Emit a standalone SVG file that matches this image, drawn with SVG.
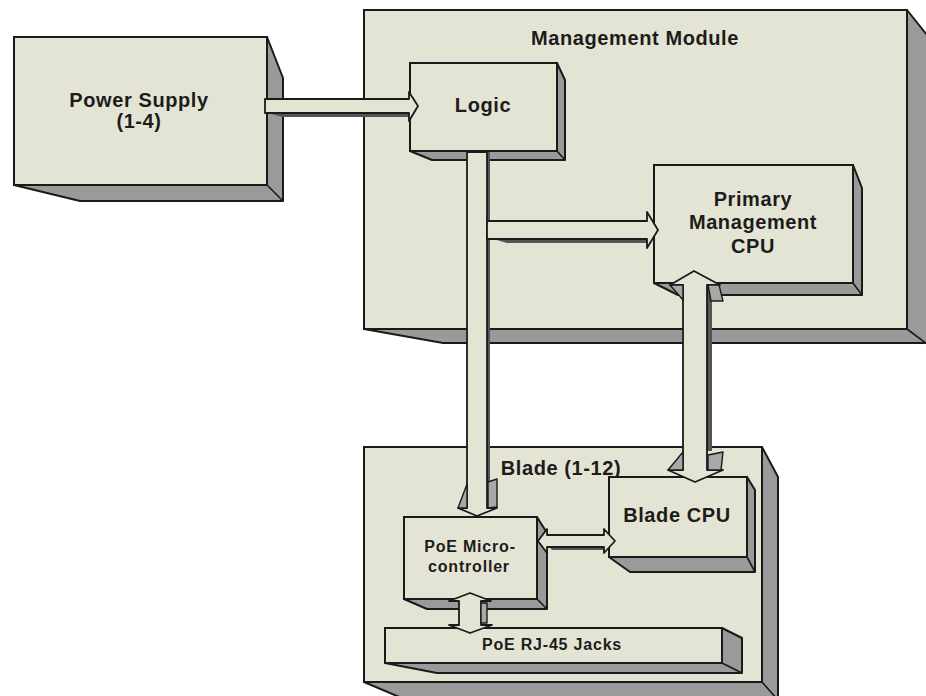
<svg xmlns="http://www.w3.org/2000/svg" width="926" height="696" viewBox="0 0 926 696">
<style>
.face{fill:#e4e4d4;stroke:#1a1a1a;stroke-width:2}
.shd{fill:#9a9a9a;stroke:#1a1a1a;stroke-width:2;stroke-linejoin:round}
.edge{fill:none;stroke:#1a1a1a;stroke-width:1.6}
.arr{fill:#e4e4d4;stroke:#1a1a1a;stroke-width:1.8;stroke-linejoin:round}
.aside{fill:#a8a8a8;stroke:#1a1a1a;stroke-width:1.4;stroke-linejoin:round}
.ash{fill:#555;stroke:none}
text{font-family:"Liberation Sans",Arial,sans-serif;font-weight:bold;fill:#1c1c1c;text-anchor:middle}
.big{font-size:20px;letter-spacing:0.6px}
.sm{font-size:16px;letter-spacing:0.8px}
</style>
<rect width="926" height="696" fill="#ffffff"/>

<g id="management-module">
<polygon class="shd" points="907,10 935,45 935,343 443,343 364,329"/>
<line class="edge" x1="907" y1="329" x2="935" y2="350"/>
<rect class="face" x="364" y="10" width="543" height="319"/>
<text class="big" x="635" y="45">Management Module</text>
</g>

<g id="blade-module">
<polygon class="shd" points="762,447 778,477 778,710 430,710 364,682"/>
<line class="edge" x1="762" y1="682" x2="778" y2="700"/>
<rect class="face" x="364" y="447" width="398" height="235"/>
<text class="big" x="561" y="475">Blade (1-12)</text>
</g>

<g id="power-supply">
<polygon class="shd" points="267,37 283,78 283,201 80,201 14,185"/>
<line class="edge" x1="267" y1="185" x2="283" y2="201"/>
<rect class="face" x="14" y="37" width="253" height="148"/>
<text class="big" x="139" y="107">Power Supply</text>
<text class="big" x="139" y="128">(1-4)</text>
</g>

<g id="logic">
<polygon class="shd" points="557,63 565,80 565,160 432,160 410,151"/>
<line class="edge" x1="557" y1="151" x2="565" y2="160"/>
<rect class="face" x="410" y="63" width="147" height="88"/>
<text class="big" x="483" y="112">Logic</text>
</g>

<g id="primary-management-cpu">
<polygon class="shd" points="853,165 862,188 862,295 678,295 654,283"/>
<line class="edge" x1="853" y1="283" x2="862" y2="295"/>
<rect class="face" x="654" y="165" width="199" height="118"/>
<text class="big" x="753" y="206">Primary</text>
<text class="big" x="753" y="229">Management</text>
<text class="big" x="753" y="253">CPU</text>
</g>

<g id="blade-cpu">
<polygon class="shd" points="747,477 755,490 755,572 630,572 609,557"/>
<line class="edge" x1="747" y1="557" x2="755" y2="572"/>
<rect class="face" x="609" y="477" width="138" height="80"/>
<text class="big" x="677" y="522">Blade CPU</text>
</g>

<g id="poe-microcontroller">
<polygon class="shd" points="537,517 547,533 547,609 427,609 404,599"/>
<line class="edge" x1="537" y1="599" x2="547" y2="609"/>
<rect class="face" x="404" y="517" width="133" height="82"/>
<text class="sm" x="470" y="552">PoE Micro-</text>
<text class="sm" x="469" y="572">controller</text>
</g>

<g id="poe-rj45-jacks">
<polygon class="shd" points="722,628 742,638 742,673 437,673 385,663"/>
<line class="edge" x1="722" y1="663" x2="742" y2="673"/>
<rect class="face" x="385" y="628" width="337" height="35"/>
<text class="sm" x="552" y="650">PoE RJ-45 Jacks</text>
</g>

<g id="connectors">
<!-- Power Supply -> Logic -->
<polygon class="ash" points="265,112 409,112 409,117 282,117"/>
<polygon class="arr" points="265,99 409,99 409,92 418,106 409,121 409,113 265,113"/>

<!-- Logic -> PoE Micro-controller -->
<rect class="ash" x="486" y="152" width="4" height="330"/>
<polygon class="arr" points="467,152 487,152 487,508 497,508 477,516 458,508 467,508"/>
<polygon class="aside" points="467,484 458,508 467,508"/>
<polygon class="aside" points="488,482 497,479 497,507 488,508"/>

<!-- Logic -> Primary Management CPU -->
<polygon class="ash" points="490,238 647,238 647,243 507,243"/>
<polygon class="arr" points="487,221 647,221 647,212 658,230 647,248 647,239 487,239"/>

<!-- Primary Management CPU <-> Blade CPU -->
<rect class="ash" x="706" y="286" width="6" height="165"/>
<polygon class="arr" points="683,285 670,285 694,271 720,285 707,285 707,470 723,470 695,482 668,470 683,470"/>
<polygon class="aside" points="670,285 683,285 683,300"/>
<polygon class="aside" points="708,285 719,285 723,301 711,301"/>
<polygon class="aside" points="683,452 668,470 683,470"/>
<polygon class="aside" points="708,455 723,452 721,470 708,470"/>

<!-- PoE Micro-controller <-> Blade CPU -->
<polygon class="ash" points="548,546 604,546 604,550 552,550"/>
<polygon class="arr" points="538,541 547,529 547,535 604,535 604,529 615,541 604,553 604,547 547,547 547,553"/>

<!-- PoE Micro-controller <-> PoE RJ-45 Jacks -->
<polygon class="arr" points="470,593 491,601 481,601 481,625 492,625 470,633 449,625 459,625 459,601 449,601"/>
<polygon class="aside" points="481,603 487,603 487,623 481,623"/>
</g>
</svg>
